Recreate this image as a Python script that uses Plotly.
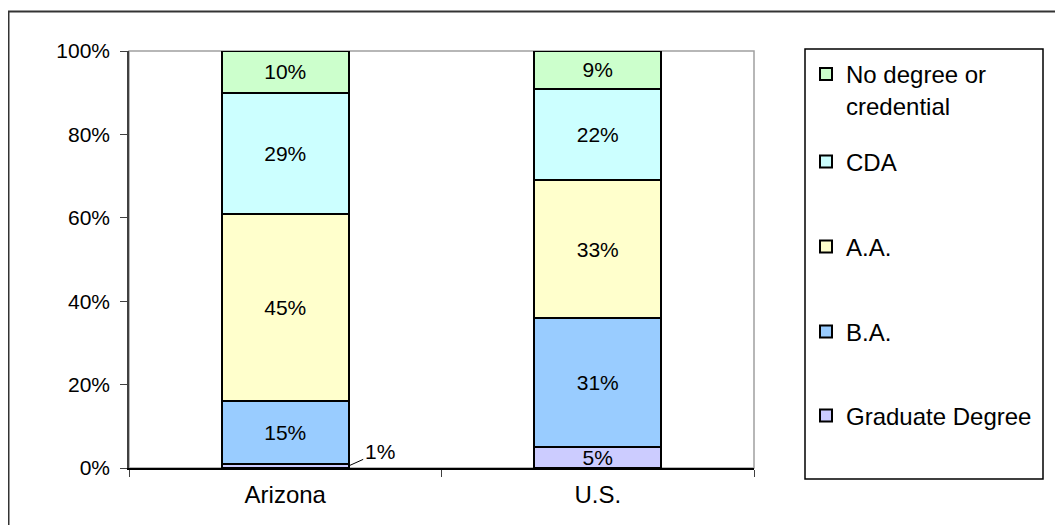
import plotly.graph_objects as go

categories = ["Arizona", "U.S."]
series_names = ["Graduate Degree", "B.A.", "A.A.", "CDA", "No degree or<br>credential"]
graduate = [1, 5]
ba = [15, 31]
aa = [45, 33]
cda = [29, 22]
no_degree = [10, 9]
colors = ["#CCCCFF", "#99CCFF", "#FFFFCC", "#CCFFFF", "#CCFFCC"]
y_ticks = [0, 0.2, 0.4, 0.6, 0.8, 1.0]

series = [graduate, ba, aa, cda, no_degree]
FONT = "Arial, Liberation Sans, sans-serif"
bargap = 0.594

# screen -> paper helpers (plot area spans x 129..754, y 51..468 on screen)
def px(x):
    return (x - 129) / 625

def py(y):
    return (468 - y) / 417

legend_ids = ["legend5", "legend4", "legend3", "legend2", "legend"]
legend_centers = [416, 332, 247, 162, 90]

fig = go.Figure()
for name, vals, col, lid in zip(series_names, series, colors, legend_ids):
    texts = [f"{v}%" if v >= 3 else "" for v in vals]
    fig.add_trace(go.Bar(
        x=categories, y=[v / 100 for v in vals], name=name,
        legend=lid,
        marker=dict(color=col, line=dict(color="black", width=2)),
        text=texts, textposition="inside", insidetextanchor="middle",
        constraintext="none",
        textfont=dict(family=FONT, size=21, color="black"),
        hoverinfo="skip",
    ))

# outside label for the tiny Arizona graduate segment
fig.add_annotation(
    x=(1 - bargap) / 2, y=graduate[0] / 100 / 2, xref="x", yref="y",
    text=f"{graduate[0]}%", showarrow=True, arrowhead=0, arrowwidth=1,
    arrowcolor="black", ax=31, ay=-14,
    font=dict(family=FONT, size=21, color="black"),
)

# plot area frame (gray)
fig.add_shape(type="rect", xref="paper", yref="paper", x0=0, x1=1, y0=0, y1=1,
              line=dict(color="#A0A0A0", width=1.5), layer="below")
# outer chart border (left and top edges visible)
fig.add_shape(type="path", xref="paper", yref="paper",
              path=f"M {px(8.5)} {py(540)} L {px(8.5)} {py(11.5)} L {px(1080)} {py(11.5)}",
              line=dict(color="#333333", width=2))
# legend box
fig.add_shape(type="rect", xref="paper", yref="paper",
              x0=px(805), x1=px(1043), y0=py(479), y1=py(49),
              line=dict(color="black", width=1.5))

legend_common = dict(
    xanchor="left", yanchor="middle", valign="top",
    font=dict(family=FONT, size=24, color="black"),
    bgcolor="rgba(0,0,0,0)", borderwidth=0,
)
legend_layout = {}
for lid, yc in zip(legend_ids, legend_centers):
    legend_layout[lid] = dict(x=px(806), y=py(yc), **legend_common)

fig.update_layout(
    width=1055, height=517,
    margin=dict(l=121, r=309, t=43, b=57),
    paper_bgcolor="white", plot_bgcolor="white",
    barmode="stack", bargap=bargap,
    showlegend=True,
    font=dict(family=FONT, color="black"),
    **legend_layout,
)
fig.update_yaxes(
    range=[0, 1], tickvals=y_ticks, tickformat=".0%",
    showgrid=False, zeroline=False,
    showline=True, linecolor="#404040", linewidth=1.5,
    ticks="outside", ticklen=7, tickcolor="#404040",
    ticklabelstandoff=6,
    tickfont=dict(family=FONT, size=21, color="black"),
)
fig.update_xaxes(
    showgrid=False, showline=True, linecolor="black", linewidth=1.5,
    ticks="outside", tickson="boundaries", ticklen=7, tickcolor="#404040",
    ticklabelstandoff=4,
    tickfont=dict(family=FONT, size=24, color="black"),
)

fig.write_html("out.html")
